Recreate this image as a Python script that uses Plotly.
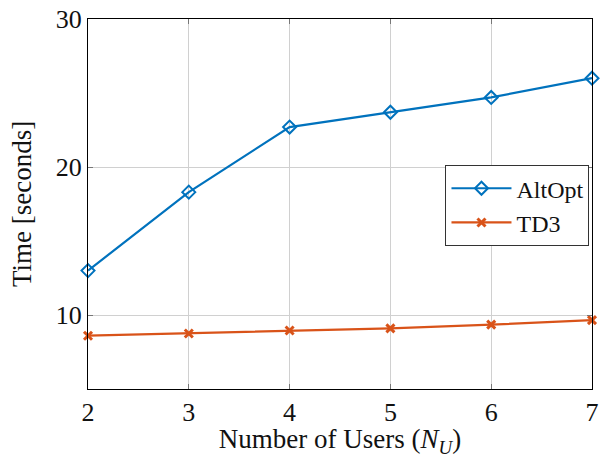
import plotly.graph_objects as go

users = [2, 3, 4, 5, 6, 7]
altopt = [13.0, 18.3, 22.7, 23.7, 24.7, 26.0]
td3 = [8.6, 8.75, 8.95, 9.1, 9.35, 9.65]

font = "Liberation Serif"

fig = go.Figure()
fig.add_trace(go.Scatter(x=users, y=altopt, name="AltOpt", mode="lines+markers",
                         line=dict(color="#0072BD", width=2.2),
                         marker=dict(symbol="diamond-open", size=10, color="#0072BD",
                                     line=dict(width=2, color="#0072BD")),
                         cliponaxis=False))
fig.add_trace(go.Scatter(x=users, y=td3, name="TD3", mode="lines+markers",
                         line=dict(color="#D95319", width=2.2),
                         marker=dict(symbol="x-thin", size=8, color="#D95319",
                                     line=dict(width=3, color="#D95319")),
                         cliponaxis=False))

fig.update_layout(
    width=600, height=458,
    margin=dict(l=88, r=8, t=19, b=69),
    paper_bgcolor="white", plot_bgcolor="white",
    font=dict(family=font, size=26, color="#111"),
    legend=dict(x=0.995, y=0.605, xanchor="right", yanchor="top",
                bordercolor="#333", borderwidth=1, bgcolor="white",
                font=dict(family=font, size=24), tracegroupgap=0,
                itemwidth=60),
    showlegend=True,
)
fig.update_xaxes(range=[2, 7], tickvals=users, showgrid=True, gridcolor="#d0d0d0",
                 ticks="inside", ticklen=5, tickcolor="#777", mirror="ticks",
                 showline=True, linecolor="black", linewidth=1, automargin=False,
                 tickfont=dict(family=font, size=26), zeroline=False,
                 title=dict(text="Number of Users (<i>N</i><sub><i>U</i></sub>)",
                            font=dict(family=font, size=27), standoff=6))
fig.update_yaxes(range=[5, 30], tickvals=[10, 20, 30], showgrid=True, gridcolor="#d0d0d0",
                 ticks="inside", ticklen=5, tickcolor="#777", mirror="ticks",
                 showline=True, linecolor="black", linewidth=1, automargin=False,
                 tickfont=dict(family=font, size=26), zeroline=False,
                 title=dict(text="Time [seconds]", font=dict(family=font, size=27), standoff=16))

fig.write_html("out.html")
